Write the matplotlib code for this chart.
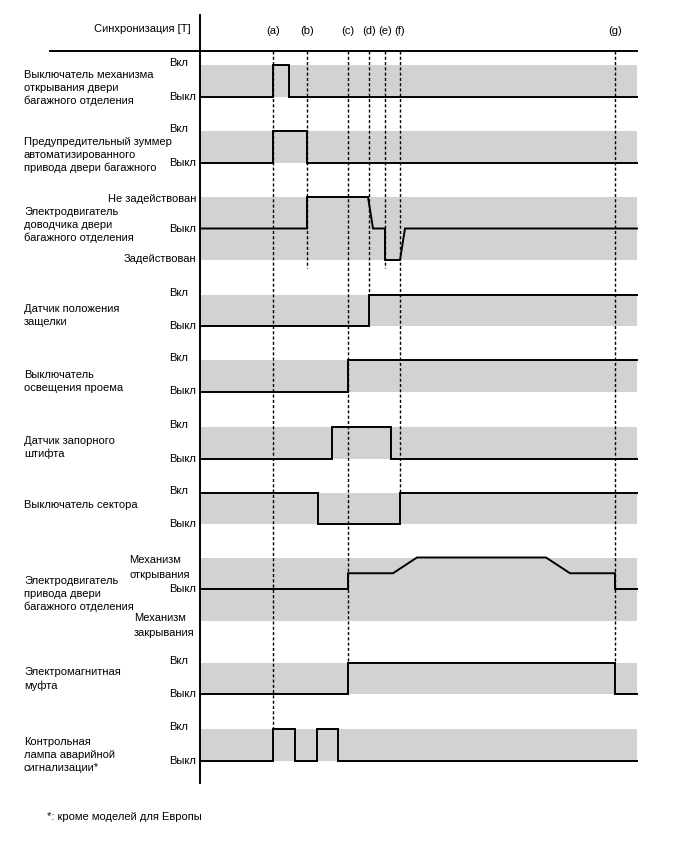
import matplotlib
matplotlib.use("Agg")
import matplotlib.pyplot as plt

plt.rcParams['font.family'] = ['Liberation Sans', 'DejaVu Sans']

# time of each sync mark (px offset from the time axis origin)
sync_names = ['(a)', '(b)', '(c)', '(d)', '(e)', '(f)', '(g)']
sync_times = [73, 107, 148, 169, 185, 200, 415]
t_end = 437

# signal rows: names, level labels, change times and values
row_names = [
    'Выключатель механизма\nоткрывания двери\nбагажного отделения',
    'Предупредительный зуммер\nавтоматизированного\nпривода двери багажного',
    'Электродвигатель\nдоводчика двери\nбагажного отделения',
    'Датчик положения\nзащелки',
    'Выключатель\nосвещения проема',
    'Датчик запорного\nштифта',
    'Выключатель сектора',
    'Электродвигатель\nпривода двери\nбагажного отделения',
    'Электромагнитная\nмуфта',
    'Контрольная\nлампа аварийной\nсигнализации*',
]
on_off = ['Выкл', 'Вкл']
lock_levels = ['Задействован', 'Выкл', 'Не задействован']
drive_levels = ['Механизм\nзакрывания', 'Выкл', 'Механизм\nоткрывания']

sig_t = [
    [0, 73, 73, 89, 89, t_end],
    [0, 73, 73, 107, 107, t_end],
    [0, 107, 107, 168, 173, 185, 185, 200, 205, t_end],
    [0, 169, 169, t_end],
    [0, 148, 148, t_end],
    [0, 132, 132, 191, 191, t_end],
    [0, 118, 118, 200, 200, t_end],
    [0, 148, 148, 193, 217, 346, 370, 415, 415, t_end],
    [0, 148, 148, 415, 415, t_end],
    [0, 73, 73, 95, 95, 117, 117, 138, 138, t_end],
]
sig_v = [
    [0, 0, 1, 1, 0, 0],
    [0, 0, 1, 1, 0, 0],
    [0, 0, 1, 1, 0, 0, -1, -1, 0, 0],
    [0, 0, 1, 1],
    [0, 0, 1, 1],
    [0, 0, 1, 1, 0, 0],
    [1, 1, 0, 0, 1, 1],
    [0, 0, 0.5, 0.5, 1, 1, 0.5, 0.5, 0, 0],
    [0, 0, 1, 1, 0, 0],
    [0, 0, 1, 1, 0, 0, 1, 1, 0, 0],
]
three_level = [False, False, True, False, False, False, False, True, False, False]

# layout (figure pixels)
X0 = 200
row_top = [65, 131, 197, 294.5, 360, 427, 492.5, 557.5, 662.5, 729]
band = 31.5
name_y = [88, 155, 225, 315.5, 381.5, 447.5, 505, 594, 679, 755]
sync_stop = [729, 268, 662.5, 294.5, 268, 492.5, 662.5]

fig = plt.figure(figsize=(6.88, 8.52), dpi=100)
ax = fig.add_axes([0, 0, 1, 1])
ax.set_xlim(0, 688)
ax.set_ylim(852, 0)
ax.axis('off')

gray = '#d2d2d2'
fs = 8


def block(x, yc, text, step, ha='left'):
    # one text per line so each line keeps its own box
    lines = text.split('\n')
    n = len(lines)
    for k, ln in enumerate(lines):
        ax.text(x, yc + (k - (n - 1) / 2) * step, ln, fontsize=fs,
                ha=ha, va='center')


for i, name in enumerate(row_names):
    top = row_top[i]
    if three_level[i]:
        mid = top + band
        bot = top + 2 * band
        ax.fill_between([X0, X0 + t_end], top, bot, color=gray, lw=0, zorder=1)
        ys = [mid - v * band for v in sig_v[i]]
    else:
        bot = top + band
        ax.fill_between([X0, X0 + t_end], top, bot, color=gray, lw=0, zorder=1)
        ys = [bot - v * band for v in sig_v[i]]
    xs = [X0 + t for t in sig_t[i]]
    ax.plot(xs, ys, color='black', lw=1.4, zorder=4, solid_joinstyle='miter')
    block(24, name_y[i], name, 13.2)

    if i == 2:
        ax.text(196, top + 2, lock_levels[2], fontsize=fs, ha='right', va='center')
        ax.text(196, top + band, lock_levels[1], fontsize=fs, ha='right', va='center')
        ax.text(196, top + 2 * band - 1, lock_levels[0], fontsize=fs, ha='right', va='center')
    elif i == 7:
        block(129, top + 10, drive_levels[2], 15.5)
        ax.text(196, top + band, drive_levels[1], fontsize=fs, ha='right', va='center')
        block(134, top + 2 * band + 5, drive_levels[0], 15.5)
    else:
        ax.text(169, top - 2, on_off[1], fontsize=fs, ha='left', va='center')
        ax.text(169, top + band, on_off[0], fontsize=fs, ha='left', va='center')

# sync marks
for name, t, stop in zip(sync_names, sync_times, sync_stop):
    ax.plot([X0 + t, X0 + t], [50.7, stop], color='black', lw=1.0,
            linestyle=(0, (2.2, 1.6)), zorder=3)
    ax.text(X0 + t, 31, name, fontsize=fs, ha='center', va='center')

ax.text(191, 29, 'Синхронизация [T]', fontsize=fs, ha='right', va='center')

# frame lines
ax.plot([50, X0 + t_end], [50.7, 50.7], color='black', lw=1.4, zorder=5)
ax.plot([X0 - 0.5, X0 - 0.5], [15, 783], color='black', lw=1.4, zorder=5)

ax.text(47, 817, '*: кроме моделей для Европы', fontsize=fs, ha='left', va='center')

fig.savefig('out.png', dpi=100)
